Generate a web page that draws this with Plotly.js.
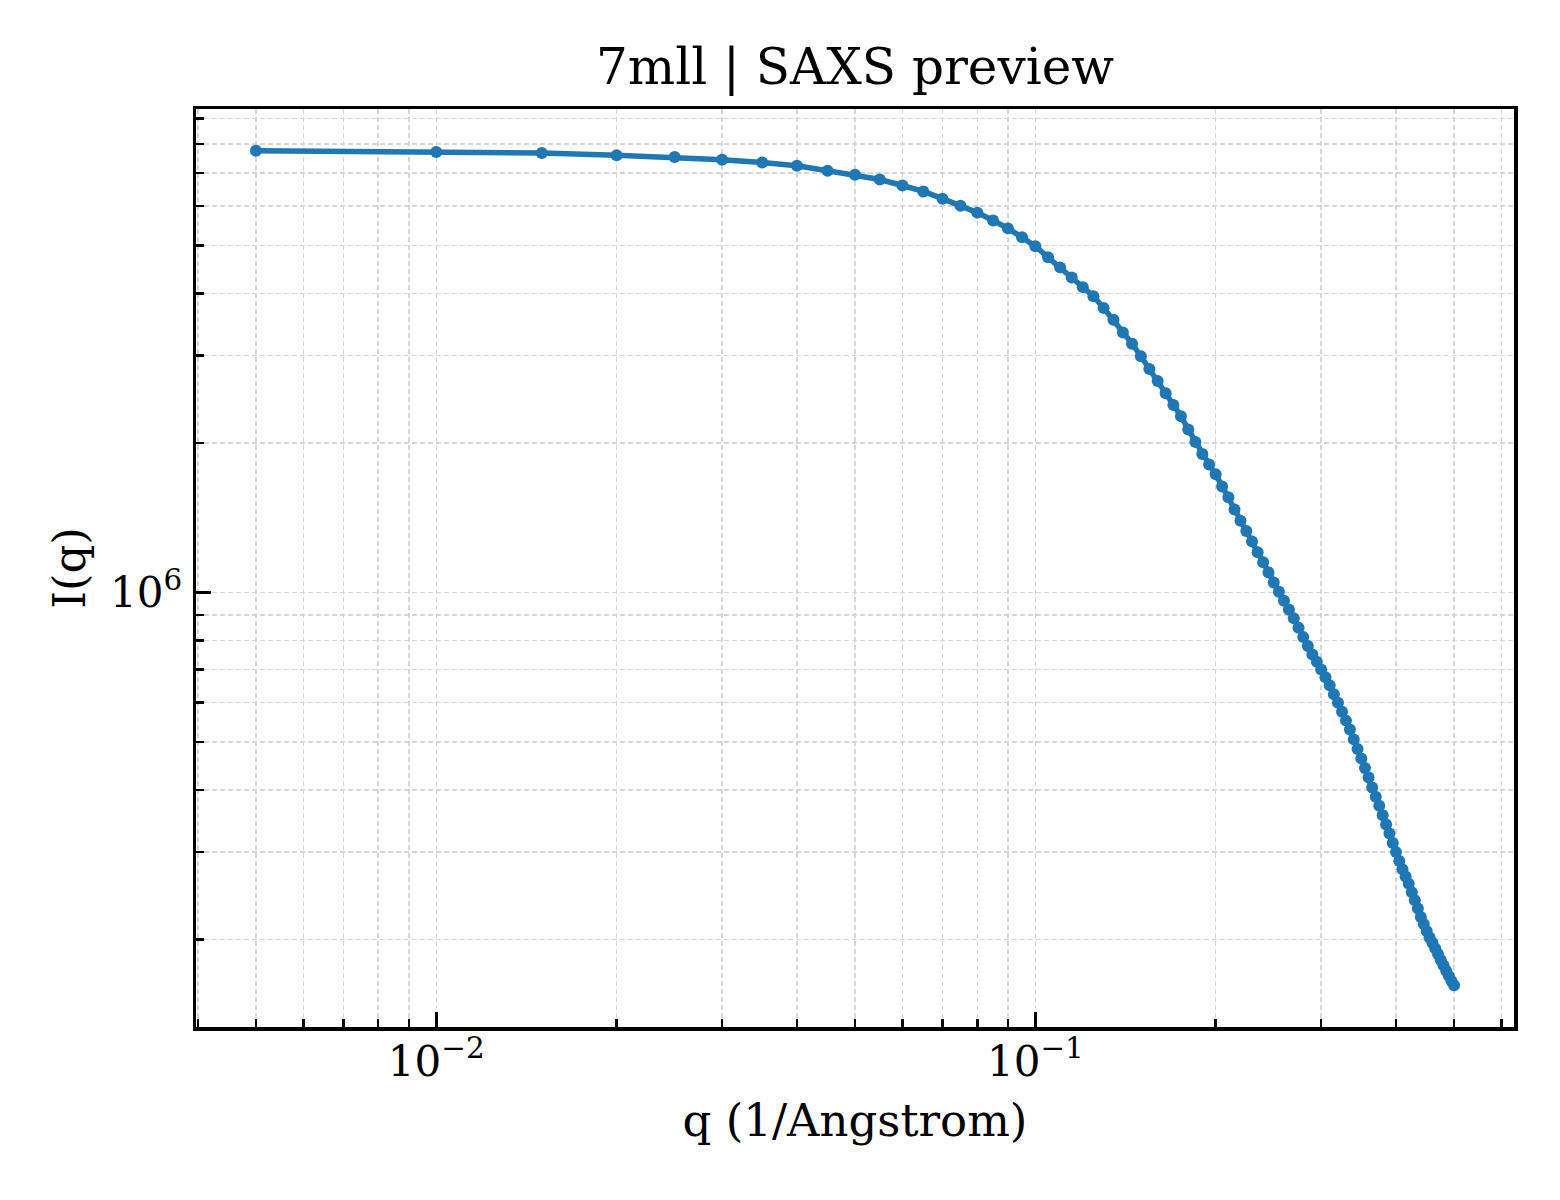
<!DOCTYPE html>
<html>
<head>
<meta charset="utf-8">
<script src="https://cdn.plot.ly/plotly-3.0.1.min.js"></script>
<style>
	body { margin: 0; background: #ffffff; }
	#saxsPlot { width: 1560px; height: 1200px; }
</style>
</head>
<body>
<div id="saxsPlot"></div>
<script>
'use strict';

// scattering vector, 1/Angstrom
const q = [
	0.005, 0.010, 0.015, 0.020, 0.025, 0.030, 0.035, 0.040, 0.045, 0.050,
	0.055, 0.060, 0.065, 0.070, 0.075, 0.080, 0.085, 0.090, 0.095, 0.100,
	0.105, 0.110, 0.115, 0.120, 0.125, 0.130, 0.135, 0.140, 0.145, 0.150,
	0.155, 0.160, 0.165, 0.170, 0.175, 0.180, 0.185, 0.190, 0.195, 0.200,
	0.205, 0.210, 0.215, 0.220, 0.225, 0.230, 0.235, 0.240, 0.245, 0.250,
	0.255, 0.260, 0.265, 0.270, 0.275, 0.280, 0.285, 0.290, 0.295, 0.300,
	0.305, 0.310, 0.315, 0.320, 0.325, 0.330, 0.335, 0.340, 0.345, 0.350,
	0.355, 0.360, 0.365, 0.370, 0.375, 0.380, 0.385, 0.390, 0.395, 0.400,
	0.405, 0.410, 0.415, 0.420, 0.425, 0.430, 0.435, 0.440, 0.445, 0.450,
	0.455, 0.460, 0.465, 0.470, 0.475, 0.480, 0.485, 0.490, 0.495, 0.500
];

// intensity I(q)
const intensity = [
	7.755e6, 7.71e6, 7.67e6, 7.59e6, 7.53e6, 7.44e6, 7.34e6, 7.235e6, 7.07e6, 6.94e6,
	6.785e6, 6.60e6, 6.42e6, 6.21e6, 6.01e6, 5.82e6, 5.61e6, 5.41e6, 5.19e6, 4.98e6,
	4.73e6, 4.515e6, 4.31e6, 4.12e6, 3.95e6, 3.74e6, 3.54e6, 3.34e6, 3.17e6, 2.99e6,
	2.82e6, 2.665e6, 2.52e6, 2.385e6, 2.265e6, 2.13e6, 2.01e6, 1.90e6, 1.81e6, 1.73e6,
	1.635e6, 1.555e6, 1.47e6, 1.395e6, 1.33e6, 1.266e6, 1.205e6, 1.15e6, 1.097e6, 1.047e6,
	1.003e6, 9.62e5, 9.24e5, 8.87e5, 8.49e5, 8.13e5, 7.80e5, 7.50e5, 7.25e5, 7.00e5,
	6.75e5, 6.50e5, 6.24e5, 6.00e5, 5.75e5, 5.52e5, 5.30e5, 5.06e5, 4.84e5, 4.63e5,
	4.43e5, 4.24e5, 4.05e5, 3.88e5, 3.72e5, 3.56e5, 3.41e5, 3.27e5, 3.13e5, 3.00e5,
	2.88e5, 2.77e5, 2.68e5, 2.59e5, 2.49e5, 2.40e5, 2.31e5, 2.22e5, 2.15e5, 2.08e5,
	2.02e5, 1.97e5, 1.92e5, 1.87e5, 1.82e5, 1.775e5, 1.73e5, 1.69e5, 1.65e5, 1.618e5
];

// tick positions and labels
const xMajor = [0.01, 0.1];
const xMajorText = ['10<sup>\u22122</sup>', '10<sup>\u22121</sup>'];
const xMinor = [0.004, 0.005, 0.006, 0.007, 0.008, 0.009,
	0.02, 0.03, 0.04, 0.05, 0.06, 0.07, 0.08, 0.09,
	0.2, 0.3, 0.4, 0.5, 0.6];
const yMajor = [1e6];
const yMajorText = ['10<sup>6</sup>'];
const yMinor = [2e5, 3e5, 4e5, 5e5, 6e5, 7e5, 8e5, 9e5,
	2e6, 3e6, 4e6, 5e6, 6e6, 7e6, 8e6, 9e6];

document.addEventListener('DOMContentLoaded', function(){

	const gridCol = '#d6d6d6';
	const gridDash = '5px,3px';

	// matplotlib-like autoscale: 5% padding in log space
	function logRange(vals)
	{
		const lo = Math.log10(Math.min(...vals));
		const hi = Math.log10(Math.max(...vals));
		const pad = 0.05 * (hi - lo);
		return [lo - pad, hi + pad];
	}

	function axisStyle(range, major, majorText, minor, title)
	{
		return {
			type: 'log',
			range: range,
			showline: true,
			linecolor: '#000000',
			linewidth: 3.5,
			mirror: true,
			zeroline: false,
			ticks: 'inside',
			ticklen: 15,
			tickwidth: 3,
			tickcolor: '#000000',
			tickmode: 'array',
			tickvals: major,
			ticktext: majorText,
			tickfont: {size: 42, color: '#000000'},
			showgrid: true,
			gridcolor: gridCol,
			gridwidth: 1.5,
			griddash: gridDash,
			minor: {
				tickmode: 'array',
				tickvals: minor,
				ticks: 'inside',
				ticklen: 8,
				tickwidth: 2.5,
				tickcolor: '#000000',
				showgrid: true,
				gridcolor: gridCol,
				gridwidth: 1.5,
				griddash: gridDash
			},
			title: {
				text: title,
				font: {size: 45, color: '#000000'}
			}
		};
	}

	function drawGraph(id)
	{
		try {
			const trace1 = {
				x: q,
				y: intensity,
				type: 'scatter',
				mode: 'lines+markers',
				line: {color: '#1f77b4', width: 5.5},
				marker: {color: '#1f77b4', size: 12}
			};

			const xaxis = axisStyle(logRange(q), xMajor, xMajorText, xMinor, 'q (1/Angstrom)');
			xaxis.ticklabelstandoff = -5;
			xaxis.title.standoff = 20;
			const yaxis = axisStyle(logRange(intensity), yMajor, yMajorText, yMinor, 'I(q)');
			yaxis.ticklabelstandoff = 2;
			yaxis.title.standoff = 11;

			const layout = {
				width: 1560,
				height: 1200,
				margin: {l: 196, r: 46, t: 109, b: 173},
				paper_bgcolor: '#ffffff',
				plot_bgcolor: '#ffffff',
				font: {family: 'DejaVu Serif, serif', color: '#000000'},
				showlegend: false,
				title: {
					text: '7mll | SAXS preview',
					font: {size: 50, color: '#000000'},
					xref: 'paper',
					x: 0.5,
					xanchor: 'center',
					yref: 'container',
					y: 1 - 66 / 1200,
					yanchor: 'middle'
				},
				xaxis: xaxis,
				yaxis: yaxis
			};

			Plotly.newPlot(id, [trace1], layout, {displayModeBar: false, staticPlot: true});
		}

		catch (err) {
			console.error(err);
		}
	}

	drawGraph('saxsPlot');
});
</script>
</body>
</html>
